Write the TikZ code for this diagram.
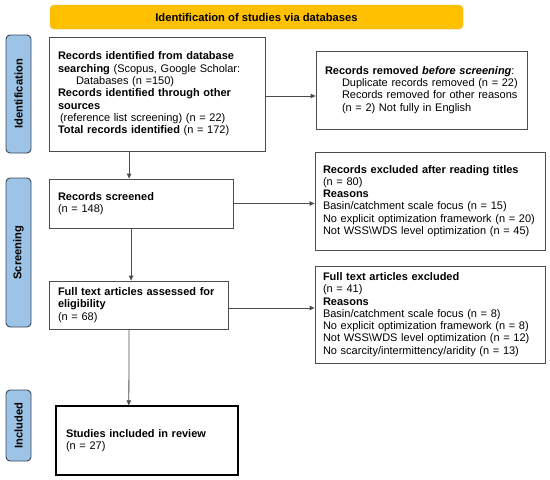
\documentclass[tikz,border=0pt]{standalone}
\usepackage{fontspec}
\setmainfont{Liberation Sans}
\usepackage{tikz}
\usetikzlibrary{arrows.meta}
\definecolor{prgold}{HTML}{FFC000}
\definecolor{prgoldline}{HTML}{F2B84B}
\definecolor{prblue}{HTML}{9DC3E6}
\definecolor{prslate}{HTML}{3B4654}
\definecolor{prline}{HTML}{4D4D4D}

\begin{document}
\begin{tikzpicture}[x=1pt,y=-1pt,
  every node/.style={font=\fontsize{11}{12.3}\selectfont},
  box/.style={draw=prline,line width=0.8pt,align=left,inner xsep=9pt,inner ysep=0pt},
  phase/.style={draw=prslate,fill=prblue,line width=0.9pt,rounded corners=4pt,rotate=90,
    minimum height=25,inner sep=0pt,font=\fontsize{11.2}{12}\selectfont\bfseries},
  arr/.style={-{Triangle[length=5pt,width=4.5pt]},prline,line width=0.8pt}]
  \useasboundingbox (0,0) rectangle (550,480);
  \node[draw=prgoldline,fill=prgold,rounded corners=4pt,minimum width=413,minimum height=24,
    font=\fontsize{11.2}{12}\selectfont\bfseries] (head) at (256.5,17) {Identification of studies via databases};
  \node[phase,minimum width=118] (pid) at (18.5,94) {Identification};
  \node[phase,minimum width=149] (pscr) at (18.5,252.5) {Screening};
  \node[phase,minimum width=71] (pinc) at (18.5,425.5) {Included};
  \node[box,minimum height=114,text width=198] (ident) at (157,94)
    {\textbf{Records identified from database}\\
     \textbf{searching} (Scopus, Google Scholar:\\
     \hspace*{18pt}Databases (n =150)\\
     \makebox[\linewidth][s]{\textbf{Records identified through other}}\\
     \textbf{sources}\\
     \hspace*{2pt}(reference list screening) (n = 22)\\
     \textbf{Total records identified} (n = 172)};
  \node[box,minimum height=78,text width=193] (removed) at (421.5,90)
    {\textbf{Records removed \textit{before screening}}:\\
     \hspace*{17pt}Duplicate records removed (n = 22)\\
     \hspace*{17pt}Records removed for other reasons\\
     \hspace*{17pt}(n = 2) Not fully in English};
  \node[box,minimum height=49,text width=166.5] (screened) at (141.25,203.5)
    {\textbf{Records screened}\\(n = 148)};
  \node[box,minimum height=98,text width=214,inner xsep=8pt] (excl) at (430,201)
    {\textbf{Records excluded after reading titles}\\
     (n = 80)\\
     \textbf{Reasons}\\
     Basin/catchment scale focus (n = 15)\\
     No explicit optimization framework (n = 20)\\
     Not WSS\textbackslash WDS level optimization (n = 45)};
  \node[box,minimum height=48,text width=161] (full) at (138.5,305)
    {\textbf{Full text articles assessed for}\\\textbf{eligibility}\\(n = 68)};
  \node[box,minimum height=97,text width=214,inner xsep=8pt] (fullex) at (430,314.5)
    {\textbf{Full text articles excluded}\\
     (n = 41)\\
     \textbf{Reasons}\\
     Basin/catchment scale focus (n = 8)\\
     No explicit optimization framework (n = 8)\\
     Not WSS\textbackslash WDS level optimization (n = 12)\\
     No scarcity/intermittency/aridity (n = 13)};
  \node[box,line width=1.4pt,draw=black,minimum height=69,text width=162,inner xsep=10pt] (incl) at (147,440.5)
    {\textbf{Studies included in review}\\(n = 27)};
  \draw[arr] ([yshift=-2pt]ident.east) -- ([yshift=-2pt]ident.east -| removed.west);
  \draw[arr] (screened.east) -- (screened.east -| excl.west);
  \draw[arr] ([yshift=-3pt]full.east) -- ([yshift=-3pt]full.east -| fullex.west);
  \draw[arr] ([xshift=80.5pt]ident.south west) -- ([xshift=80.5pt]screened.north west);
  \draw[arr] ([xshift=82.5pt]screened.south west) -- ([xshift=82.5pt]full.north west);
  \draw[arr] ([xshift=80.5pt]full.south west) -- ([xshift=73.5pt]incl.north west);
\end{tikzpicture}
\end{document}
